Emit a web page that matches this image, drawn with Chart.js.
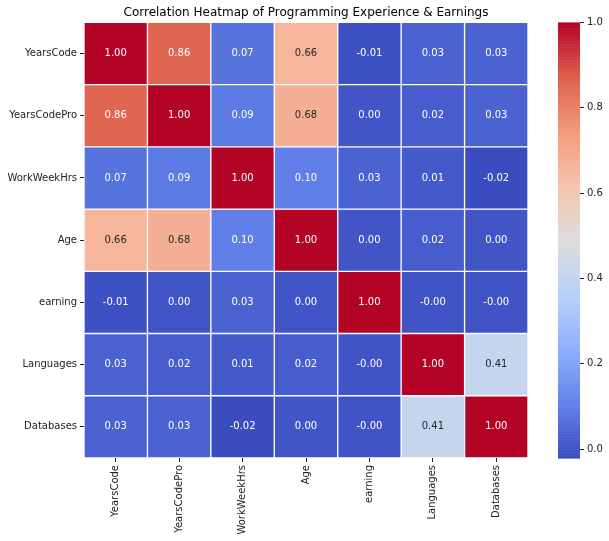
<html lang="en">
  <head>
    <meta charset="utf-8">
    <title>Correlation Heatmap</title>
    <style>
      body { margin: 0; background: white; }
      .chartBox { width: 609px; height: 541px; }
    </style>
  </head>
  <body>
    <div class="chartBox">
      <canvas id="myChart"></canvas>
    </div>

    <script src="https://cdn.jsdelivr.net/npm/chart.js/dist/chart.umd.min.js"></script>
    <script>
    // data
    const labels = ['YearsCode', 'YearsCodePro', 'WorkWeekHrs', 'Age', 'earning', 'Languages', 'Databases'];
    const yearsCode    = [1.00, 0.86, 0.07, 0.66, -0.01, 0.03, 0.03];
    const yearsCodePro = [0.86, 1.00, 0.09, 0.68, 0.00, 0.02, 0.03];
    const workWeekHrs  = [0.07, 0.09, 1.00, 0.10, 0.03, 0.01, -0.021];
    const age          = [0.66, 0.68, 0.10, 1.00, 0.00, 0.02, 0.00];
    const earning      = [-0.01, 0.00, 0.03, 0.00, 1.00, -0.002, -0.002];
    const languages    = [0.03, 0.02, 0.01, 0.02, -0.002, 1.00, 0.41];
    const databases    = [0.03, 0.03, -0.021, 0.00, -0.002, 0.41, 1.00];
    const rows = [yearsCode, yearsCodePro, workWeekHrs, age, earning, languages, databases];
    const cbTicks = [0, 0.2, 0.4, 0.6, 0.8, 1.0];

    const vmin = Math.min(...rows.flat());
    const vmax = 1.0;

    // coolwarm colormap
    const cmapStops = [
      [59, 76, 192], [98, 130, 234], [141, 176, 254], [184, 208, 249],
      [221, 221, 221], [245, 196, 173], [244, 154, 123], [222, 96, 77], [180, 4, 38]
    ];
    function cmapRGB(v) {
      let t = (v - vmin) / (vmax - vmin);
      t = Math.max(0, Math.min(1, t)) * (cmapStops.length - 1);
      const i = Math.min(Math.floor(t), cmapStops.length - 2);
      const f = t - i;
      return cmapStops[i].map((c, k) => Math.round(c + (cmapStops[i + 1][k] - c) * f));
    }
    function cmap(v) {
      const c = cmapRGB(v);
      return 'rgb(' + c.join(',') + ')';
    }
    function textColor(v) {
      const lin = cmapRGB(v).map(c => {
        c = c / 255;
        return c <= 0.03928 ? c / 12.92 : Math.pow((c + 0.055) / 1.055, 2.4);
      });
      const lum = 0.2126 * lin[0] + 0.7152 * lin[1] + 0.0722 * lin[2];
      return lum > 0.408 ? '#262626' : '#ffffff';
    }

    const datasets = rows.map((row, i) => ({
      label: labels[i],
      data: row.map((v, j) => ({ x: labels[j], y: [i, i + 1], v: v })),
      backgroundColor: (ctx) => ctx.raw ? cmap(ctx.raw.v) : '#fff',
      borderColor: '#ffffff',
      borderWidth: 1,
      borderSkipped: false,
      barPercentage: 1,
      categoryPercentage: 1,
      grouped: false
    }));

    // annotations in the cells
    const cellText = {
      id: 'cellText',
      afterDatasetsDraw(chart) {
        const { ctx } = chart;
        ctx.save();
        ctx.font = '10px "DejaVu Sans"';
        ctx.textAlign = 'center';
        ctx.textBaseline = 'middle';
        chart.data.datasets.forEach((ds, i) => {
          chart.getDatasetMeta(i).data.forEach((el, j) => {
            const v = ds.data[j].v;
            ctx.fillStyle = textColor(v);
            ctx.fillText(v.toFixed(2), el.x, (el.y + el.base) / 2);
          });
        });
        ctx.restore();
      }
    };

    // colorbar drawn against the y2 scale
    const colorBar = {
      id: 'colorBar',
      afterDraw(chart) {
        const { ctx } = chart;
        const sc = chart.scales.y2;
        const right = sc.left;
        const left = right - 22;
        const n = 300;
        ctx.save();
        for (let k = 0; k < n; k++) {
          const a = vmin + (vmax - vmin) * k / n;
          const b = vmin + (vmax - vmin) * (k + 1) / n;
          const y1 = sc.getPixelForValue(a);
          const y2 = sc.getPixelForValue(b);
          ctx.fillStyle = cmap((a + b) / 2);
          ctx.fillRect(left, y2, right - left, y1 - y2 + 0.6);
        }
        ctx.restore();
      }
    };

    const tickFont = { family: 'DejaVu Sans', size: 10 };

    const config = {
      type: 'bar',
      data: { labels, datasets },
      options: {
        responsive: true,
        maintainAspectRatio: false,
        animation: false,
        layout: { padding: 0 },
        plugins: {
          legend: { display: false },
          tooltip: { enabled: false },
          title: {
            display: true,
            text: 'Correlation Heatmap of Programming Experience & Earnings',
            color: '#000',
            font: { family: 'DejaVu Sans', size: 12, weight: 'normal' },
            padding: { top: 6, bottom: 2 },
            fullSize: false
          }
        },
        scales: {
          x: {
            type: 'category',
            offset: true,
            grid: { display: true, offset: false, drawOnChartArea: false, drawTicks: true, tickLength: 4, tickColor: '#222' },
            border: { display: false },
            ticks: { color: '#222', font: tickFont, maxRotation: 90, minRotation: 90, autoSkip: false, padding: 3 },
            afterFit(scale) { scale.height = 83; }
          },
          y: {
            type: 'linear',
            position: 'left',
            reverse: true,
            min: 0,
            max: rows.length,
            afterBuildTicks(scale) { scale.ticks = rows.map((r, i) => ({ value: i + 0.5 })); },
            grid: { display: true, drawOnChartArea: false, drawTicks: true, tickLength: 4, tickColor: '#222' },
            border: { display: false },
            ticks: { color: '#222', font: tickFont, padding: 3, callback: (v, idx) => labels[idx] },
            afterFit(scale) { scale.width = 84; }
          },
          cb: {
            type: 'linear',
            position: 'right',
            weight: 1,
            display: true,
            grid: { display: false },
            border: { display: false },
            ticks: { display: false },
            afterFit(scale) { scale.width = 52; }
          },
          y2: {
            type: 'linear',
            position: 'right',
            weight: 2,
            min: vmin,
            max: vmax,
            afterBuildTicks(scale) { scale.ticks = cbTicks.map(v => ({ value: v })); },
            grid: { display: true, drawOnChartArea: false, drawTicks: true, tickLength: 4, tickColor: '#222' },
            border: { display: false },
            ticks: { color: '#222', font: tickFont, padding: 3, callback: (v) => v.toFixed(1) },
            afterFit(scale) { scale.width = 29; }
          }
        }
      },
      plugins: [cellText, colorBar]
    };

    const myChart = new Chart(document.getElementById('myChart'), config);
    </script>
  </body>
</html>
